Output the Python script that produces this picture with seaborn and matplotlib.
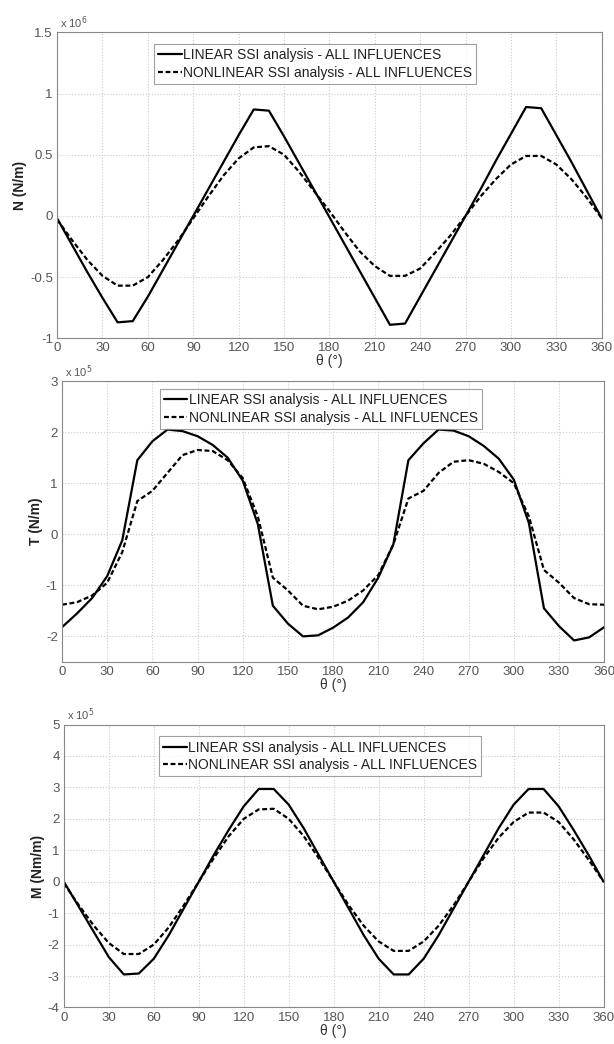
import numpy as np
import pandas as pd
import matplotlib
matplotlib.use("Agg")
import matplotlib.pyplot as plt
import seaborn as sns

theta = list(range(0, 361, 10))

N_linear = [-0.02, -0.24, -0.46, -0.67, -0.87, -0.86, -0.66, -0.44, -0.22, 0.0,
            0.22, 0.44, 0.66, 0.87, 0.86, 0.65, 0.43, 0.21, -0.01, -0.23,
            -0.45, -0.67, -0.89, -0.88, -0.66, -0.44, -0.22, 0.0, 0.22, 0.45,
            0.67, 0.89, 0.88, 0.66, 0.44, 0.21, -0.02]
N_nonlinear = [-0.03, -0.20, -0.36, -0.49, -0.57, -0.57, -0.50, -0.36, -0.20, -0.02,
               0.16, 0.33, 0.47, 0.56, 0.57, 0.50, 0.36, 0.20, 0.04, -0.13,
               -0.29, -0.41, -0.49, -0.49, -0.43, -0.30, -0.16, 0.0, 0.16, 0.30,
               0.42, 0.49, 0.49, 0.42, 0.30, 0.15, -0.02]

T_linear = [-1.82, -1.55, -1.25, -0.82, -0.12, 1.45, 1.82, 2.05, 2.02, 1.92,
            1.75, 1.50, 1.05, 0.20, -1.40, -1.75, -2.00, -1.98, -1.83, -1.63,
            -1.33, -0.85, -0.20, 1.45, 1.78, 2.05, 2.03, 1.92, 1.73, 1.48,
            1.07, 0.22, -1.45, -1.80, -2.08, -2.02, -1.82]
T_nonlinear = [-1.38, -1.33, -1.20, -0.95, -0.35, 0.65, 0.85, 1.20, 1.55, 1.65,
               1.63, 1.45, 1.10, 0.35, -0.85, -1.10, -1.40, -1.47, -1.42, -1.30,
               -1.10, -0.80, -0.20, 0.70, 0.85, 1.20, 1.42, 1.45, 1.38, 1.22,
               1.00, 0.35, -0.70, -0.95, -1.25, -1.37, -1.38]

M_linear = [0.0, -0.80, -1.60, -2.40, -2.95, -2.92, -2.45, -1.70, -0.85, 0.0,
            0.85, 1.65, 2.40, 2.95, 2.95, 2.45, 1.70, 0.85, 0.0, -0.85,
            -1.70, -2.45, -2.95, -2.95, -2.45, -1.70, -0.85, 0.0, 0.85, 1.70,
            2.45, 2.95, 2.95, 2.40, 1.65, 0.85, 0.0]
M_nonlinear = [-0.05, -0.75, -1.40, -1.95, -2.30, -2.30, -2.00, -1.45, -0.75, 0.0,
               0.75, 1.45, 2.00, 2.30, 2.32, 2.00, 1.45, 0.75, 0.0, -0.75,
               -1.40, -1.90, -2.20, -2.20, -1.90, -1.40, -0.75, 0.0, 0.75, 1.40,
               1.90, 2.20, 2.20, 1.90, 1.35, 0.70, 0.0]

series_labels = ["LINEAR SSI analysis - ALL INFLUENCES",
                 "NONLINEAR SSI analysis - ALL INFLUENCES"]
ylabels = ["N (N/m)", "T (N/m)", "M (Nm/m)"]
exponents = ["6", "5", "5"]
xticks = list(range(0, 361, 30))
ylims = [(-1, 1.5), (-2.5, 3), (-4, 5)]
yticks = [[-1, -0.5, 0, 0.5, 1, 1.5],
          [-2, -1, 0, 1, 2, 3],
          [-4, -3, -2, -1, 0, 1, 2, 3, 4, 5]]
yticklabels = [["-1", "-0.5", "0", "0.5", "1", "1.5"],
               ["-2", "-1", "0", "1", "2", "3"],
               ["-4", "-3", "-2", "-1", "0", "1", "2", "3", "4", "5"]]

sns.set_style("white")
plt.rcParams['font.family'] = ['Liberation Sans', 'DejaVu Sans']

fig = plt.figure(figsize=(6.14, 10.44), dpi=100)
positions = [[0.093, 0.676, 0.887, 0.293],
             [0.101, 0.366, 0.883, 0.269],
             [0.104, 0.035, 0.879, 0.271]]
legend_anchor = [(0.178, 0.962), (0.180, 0.972), (0.176, 0.958)]

datasets = [(N_linear, N_nonlinear), (T_linear, T_nonlinear), (M_linear, M_nonlinear)]
tick_color = "#555555"

for i, (lin, nonlin) in enumerate(datasets):
    ax = fig.add_axes(positions[i])
    df = pd.DataFrame({
        "theta": theta * 2,
        "value": lin + nonlin,
        "series": [series_labels[0]] * len(theta) + [series_labels[1]] * len(theta),
    })
    sns.lineplot(data=df, x="theta", y="value", style="series",
                 dashes={series_labels[0]: "", series_labels[1]: (2.2, 1.2)},
                 color="black", linewidth=1.6, ax=ax, legend=True)
    ax.set_xlim(0, 360)
    ax.set_ylim(*ylims[i])
    ax.set_xticks(xticks)
    ax.set_yticks(yticks[i])
    ax.set_yticklabels(yticklabels[i])
    ax.tick_params(axis='both', labelsize=9.5, colors=tick_color, direction='in',
                   length=3, pad=3)
    ax.grid(True, color="#cccccc", linestyle=":", linewidth=0.8)
    for sp in ax.spines.values():
        sp.set_color("#888888")
        sp.set_linewidth(0.8)
    ax.set_xlabel("θ (°)", fontsize=10, color="#333333", labelpad=0)
    ax.set_ylabel(ylabels[i], fontsize=10, fontweight="bold", color="#222222", labelpad=2)
    ax.text(0.005, 1.005, r"x 10$^{%s}$" % exponents[i], transform=ax.transAxes,
            fontsize=8, color=tick_color, va="bottom", ha="left")
    leg = ax.legend(loc="upper left", bbox_to_anchor=legend_anchor[i], fontsize=10,
                    handlelength=1.7, handletextpad=0.1, borderpad=0.3,
                    labelspacing=0.25, frameon=True, fancybox=False, title=None,
                    borderaxespad=0)
    leg.get_frame().set_edgecolor("#888888")
    leg.get_frame().set_linewidth(0.8)
    for t in leg.get_texts():
        t.set_color("#222222")

fig.savefig("out.png", dpi=100)
